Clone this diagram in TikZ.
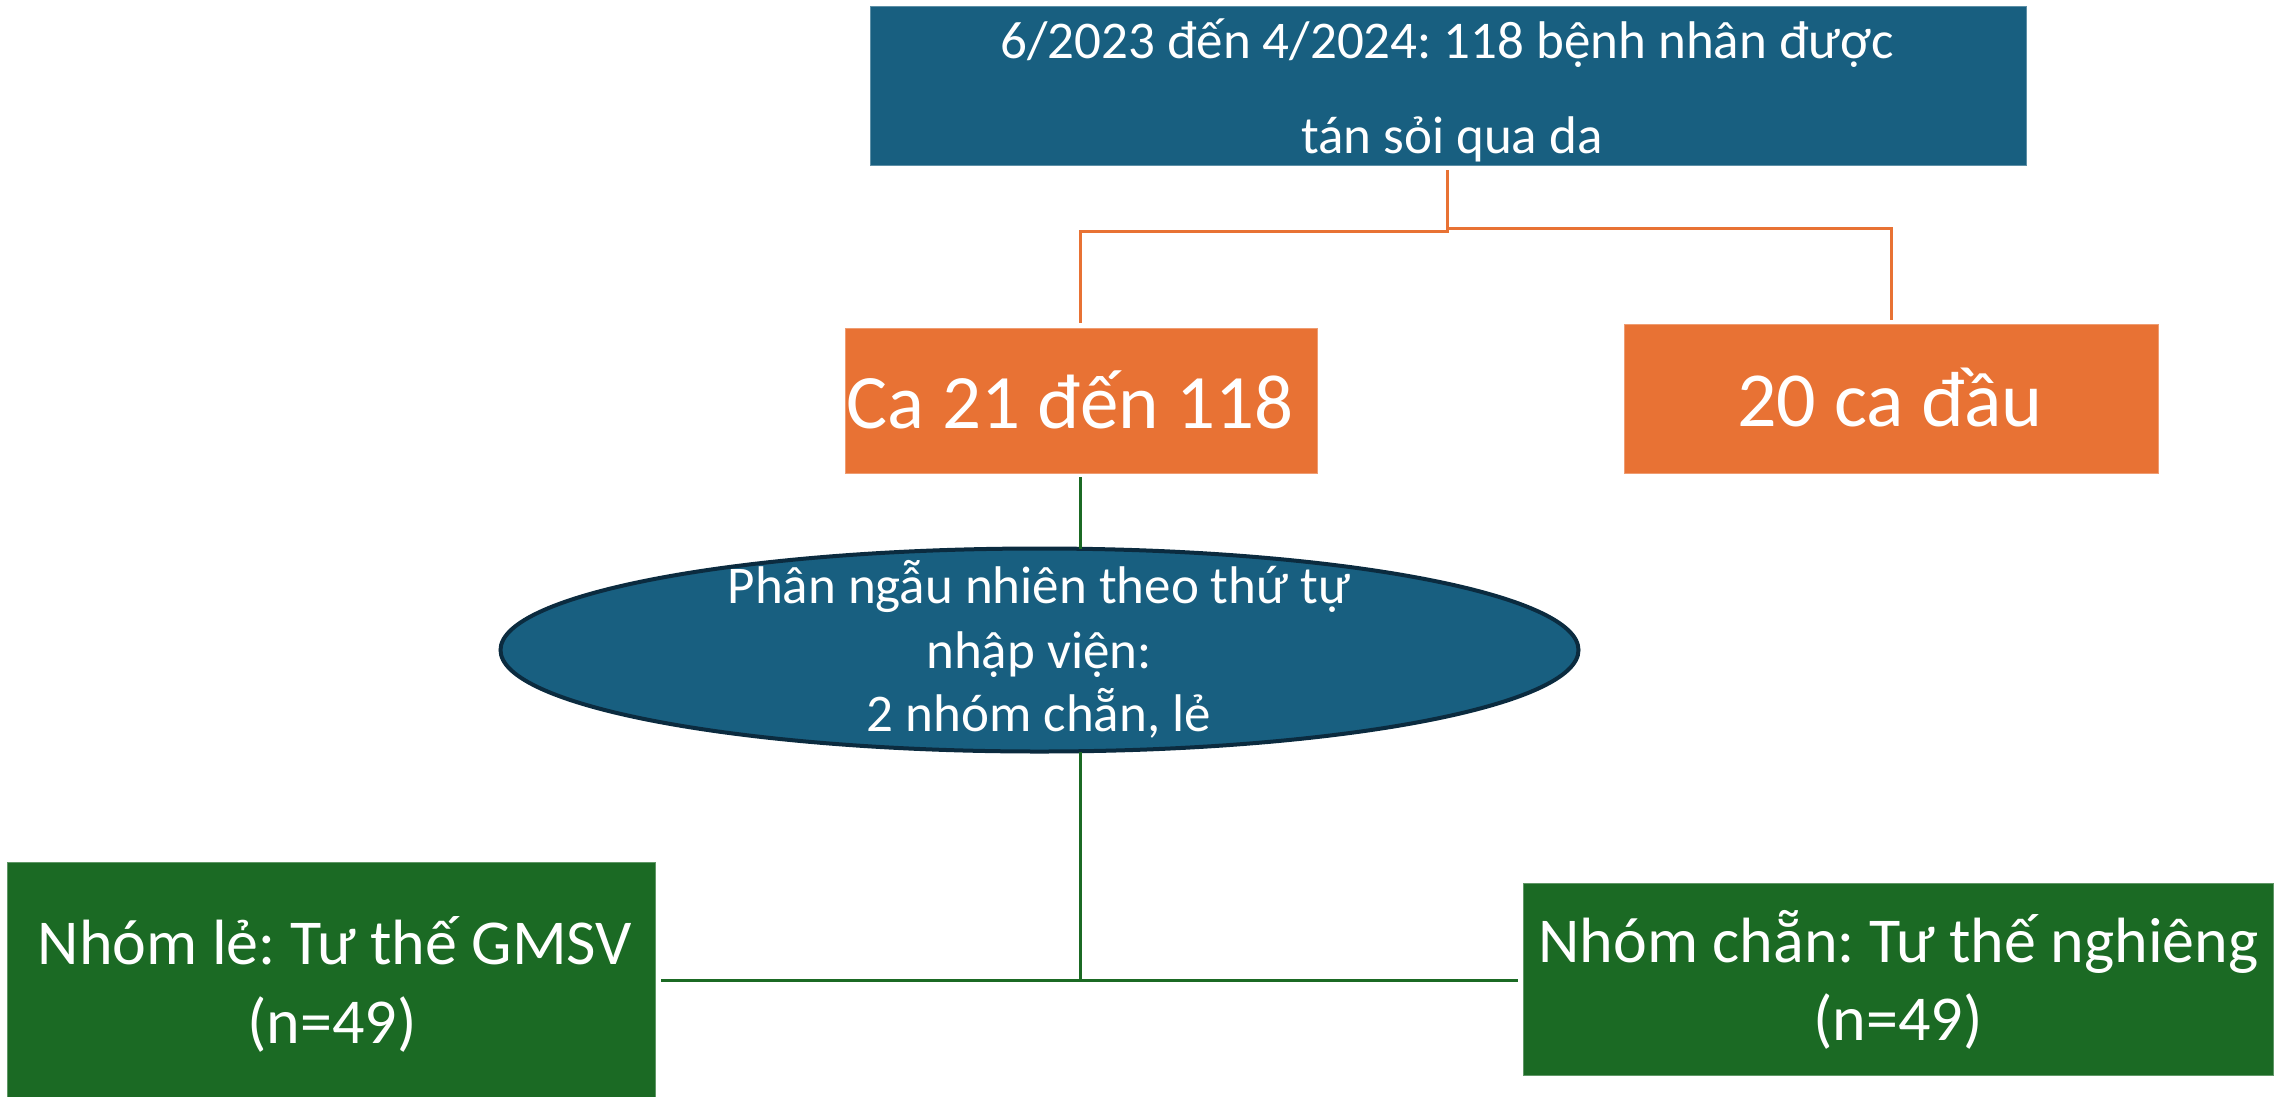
\documentclass[tikz,border=0pt]{standalone}
\usepackage{fontspec}
\setmainfont{Carlito}
\usetikzlibrary{shapes.geometric}
\frenchspacing
\definecolor{cblue}{HTML}{185F80}
\definecolor{corange}{HTML}{E87234}
\definecolor{cgreen}{HTML}{1B6A24}
\definecolor{cdark}{HTML}{0B2B3F}
\tikzset{
  boxbase/.style={rectangle, inner sep=0pt, outer sep=0pt, line width=1pt},
  bluebox/.style={boxbase, fill=cblue, draw=cblue!70!white},
  orangebox/.style={boxbase, fill=corange, draw=corange!70!white},
  greenbox/.style={boxbase, fill=cgreen, draw=cgreen!70!white},
  ovalbox/.style={ellipse, inner sep=0pt, outer sep=0pt, fill=cblue, draw=cdark, line width=4pt},
  txt/.style={anchor=base, inner sep=0pt, outer sep=0pt, text=white},
  oline/.style={draw=corange, line width=3pt},
  gline/.style={draw=cgreen, line width=3pt},
}
\begin{document}
\frenchspacing
\begin{tikzpicture}[x=1pt,y=-1pt]
\useasboundingbox (0,0) rectangle (2288,1096);
% boxes
\node[bluebox, minimum width=1156pt, minimum height=159pt] (top) at (1448,85.5) {};
\node[orangebox, minimum width=472pt, minimum height=145pt] (ca) at (1081,400.5) {};
\node[orangebox, minimum width=534pt, minimum height=149pt] (first) at (1891,398.5) {};
\node[ovalbox, minimum width=1078pt, minimum height=203pt] (ell) at (1039.5,650) {};
\node[greenbox, minimum width=648pt, minimum height=242pt] (lb) at (331,983) {};
\node[greenbox, minimum width=750pt, minimum height=192pt] (rb) at (1898,979) {};
% texts
\node[txt, font=\fontsize{53}{60}\selectfont] (t1) at (1447,58) {6/2023 đến 4/2024: 118 bệnh nhân được};
\node[txt, font=\fontsize{53}{60}\selectfont] (t2) at (1452,153) {tán sỏi qua da};
\node[txt, font=\fontsize{77}{85}\selectfont] (t3) at (1070,428) {Ca 21 đến 118};
\node[txt, font=\fontsize{78}{85}\selectfont] (t4) at (1890,426) {20 ca đầu};
\node[txt, font=\fontsize{53}{60}\selectfont] (t5) at (1039,603) {Phân ngẫu nhiên theo thứ tự};
\node[txt, font=\fontsize{53}{60}\selectfont] (t6) at (1039,668) {nhập viện:};
\node[txt, font=\fontsize{53}{60}\selectfont] (t7) at (1039,731) {2 nhóm chẵn, lẻ};
\node[txt, font=\fontsize{64}{70}\selectfont] (t8) at (335,964) {Nhóm lẻ: Tư thế GMSV};
\node[txt, font=\fontsize{64}{70}\selectfont] (t9) at (332,1043) {(n=49)};
\node[txt, font=\fontsize{64}{70}\selectfont] (t10) at (1898.5,962) {Nhóm chẵn: Tư thế nghiêng};
\node[txt, font=\fontsize{64}{70}\selectfont] (t11) at (1898,1040) {(n=49)};
% orange connectors
\coordinate (j1) at (1447,231.5);
\coordinate (j2) at (1447,228);
\draw[oline, shorten <=5pt, shorten >=5pt] ([xshift=-1pt]top.south) -- (j1) -| ([xshift=-1pt]ca.north);
\draw[oline, shorten <=5pt, shorten >=4pt] ([xshift=-1pt]top.south) -- (j2) -| (first.north);
% green connectors
\draw[gline, shorten <=4pt] ([xshift=-1pt]ca.south) -- ([xshift=-1pt]ca.south |- ell.north);
\coordinate (j3) at (1080,980);
\draw[gline] (j3 |- ell.south) -- (j3) -- ([xshift=6pt]lb.east |- j3);
\draw[gline] (j3) -- ([xshift=-5pt]rb.west |- j3);
\end{tikzpicture}
\end{document}
